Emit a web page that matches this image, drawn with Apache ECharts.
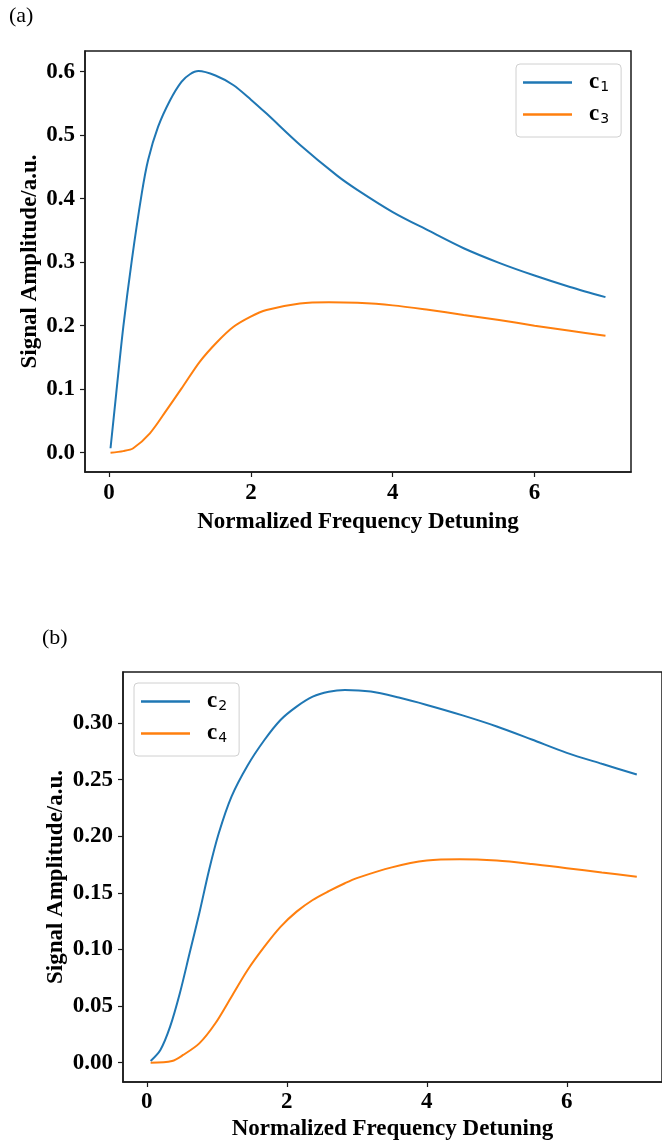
<!DOCTYPE html>
<html>
<head>
<meta charset="utf-8">
<script src="https://cdn.jsdelivr.net/npm/echarts@6/dist/echarts.min.js"></script>
<style>
html,body{margin:0;padding:0;background:#fff;}
#chart{width:662px;height:1144px;}
</style>
</head>
<body>
<div id="chart"></div>
<script>
// ---- Panel (a) data ----
const c1X = [0.02, 0.10, 0.20, 0.32, 0.46, 0.55, 0.69, 0.86, 1.02, 1.14, 1.26, 1.50, 1.75, 2.00, 2.22, 2.69, 3.22, 3.50, 4.00, 4.50, 5.00, 5.50, 6.00, 6.50, 7.00];
const c1  = [0.007, 0.093, 0.198, 0.303, 0.408, 0.461, 0.513, 0.555, 0.584, 0.596, 0.601, 0.594, 0.579, 0.556, 0.534, 0.485, 0.436, 0.414, 0.379, 0.350, 0.322, 0.299, 0.279, 0.261, 0.245];
const c3X = [0.02, 0.20, 0.34, 0.575, 0.81, 1.045, 1.28, 1.52, 1.75, 1.99, 2.22, 2.69, 3.10, 3.50, 4.00, 4.50, 5.00, 5.50, 6.00, 6.50, 7.00];
const c3  = [0.000, 0.0025, 0.007, 0.0305, 0.067, 0.105, 0.1435, 0.174, 0.198, 0.214, 0.2247, 0.235, 0.237, 0.236, 0.232, 0.225, 0.217, 0.209, 0.200, 0.192, 0.184];
// ---- Panel (b) data ----
const c2X = [0.055, 0.194, 0.333, 0.472, 0.611, 0.75, 0.889, 1.028, 1.21, 1.44, 1.68, 1.91, 2.14, 2.37, 2.60, 2.83, 3.20, 3.60, 4.00, 4.50, 5.00, 5.50, 6.00, 6.50, 7.00];
const c2  = [0.0015, 0.0112, 0.0318, 0.0613, 0.0966, 0.132, 0.170, 0.2026, 0.235, 0.2625, 0.285, 0.3027, 0.3145, 0.3233, 0.3277, 0.3292, 0.3278, 0.3225, 0.316, 0.307, 0.297, 0.2855, 0.2737, 0.264, 0.2546];
const c4X = [0.055, 0.36, 0.52, 0.75, 0.98, 1.21, 1.44, 1.68, 1.91, 2.14, 2.37, 2.60, 2.83, 3.00, 3.50, 4.00, 4.47, 5.00, 5.50, 6.00, 6.50, 7.00];
const c4  = [0.000, 0.0015, 0.0068, 0.017, 0.0348, 0.0583, 0.0819, 0.1025, 0.120, 0.1334, 0.1437, 0.1515, 0.1585, 0.1630, 0.1725, 0.1785, 0.1797, 0.1785, 0.1755, 0.1718, 0.168, 0.1643];
// ---- Tick labels ----
const xTicks = [0, 2, 4, 6];
const yTicksA = [0.0, 0.1, 0.2, 0.3, 0.4, 0.5, 0.6];
const yTicksB = [0.00, 0.05, 0.10, 0.15, 0.20, 0.25, 0.30];
const xTitle = 'Normalized Frequency Detuning';
const yTitle = 'Signal Amplitude/a.u.';
const subs = {c1: '1', c2: '2', c3: '3', c4: '4'};

const BLUE = '#1f77b4', ORANGE = '#ff7f0e', INK = '#1a1a1a';
const SERIF = 'Liberation Serif';
const zip = (xs, ys) => xs.map((x, i) => [x, ys[i]]);

function xAxisCfg(gridIndex, labelMargin, nameGap) {
  return {
    type: 'value', gridIndex, min: -0.34, max: 7.36,
    splitLine: {show: false},
    axisLine: {show: true, onZero: false, lineStyle: {color: INK, width: 1.5}},
    axisTick: {show: true, customValues: xTicks, length: 5, lineStyle: {color: INK, width: 1.2}},
    axisLabel: {customValues: xTicks, margin: labelMargin, color: '#000',
      fontFamily: SERIF, fontWeight: 'bold', fontSize: 23, formatter: v => String(v)},
    name: xTitle, nameLocation: 'middle', nameGap, nameMoveOverlap: false,
    nameTextStyle: {fontFamily: SERIF, fontWeight: 'bold', fontSize: 23, color: '#000'}
  };
}
function yAxisCfg(gridIndex, min, max, ticks, digits, nameGap) {
  return {
    type: 'value', gridIndex, min, max,
    splitLine: {show: false},
    axisLine: {show: true, onZero: false, lineStyle: {color: INK, width: 1.5}},
    axisTick: {show: true, customValues: ticks, length: 5, lineStyle: {color: INK, width: 1.2}},
    axisLabel: {customValues: ticks, margin: 10, color: '#000',
      fontFamily: SERIF, fontWeight: 'bold', fontSize: 23, formatter: v => Number(v).toFixed(digits)},
    name: yTitle, nameLocation: 'middle', nameGap, nameRotate: 90, nameMoveOverlap: false,
    nameTextStyle: {fontFamily: SERIF, fontWeight: 'bold', fontSize: 23, color: '#000'}
  };
}
function legendCfg(names, left, top) {
  return {
    data: names, left, top, orient: 'vertical',
    icon: 'rect', itemWidth: 49, itemHeight: 2.5, itemGap: 9,
    padding: [7, 12, 11, 7],
    backgroundColor: '#fff', borderColor: '#d0d0d0', borderWidth: 1, borderRadius: 4,
    formatter: n => '{c|c}{s|' + subs[n] + '}',
    textStyle: {
      rich: {
        c: {fontFamily: SERIF, fontWeight: 'bold', fontSize: 23, color: '#000', padding: [0, 1, 0, 12], lineHeight: 23},
        s: {fontFamily: 'DejaVu Sans', fontSize: 14, color: '#000', padding: [9, 0, 0, 0], lineHeight: 23}
      }
    }
  };
}
function lineSeries(name, xs, ys, color, idx) {
  return {
    name, type: 'line', xAxisIndex: idx, yAxisIndex: idx,
    data: zip(xs, ys), showSymbol: false, symbol: 'none',
    smooth: 0.3,
    lineStyle: {color, width: 2}, itemStyle: {color}
  };
}

const chart = echarts.init(document.getElementById('chart'), null, {renderer: 'canvas'});
chart.setOption({
  animation: false,
  backgroundColor: '#fff',
  grid: [
    {left: 85, top: 51, width: 546, height: 421, show: true, borderColor: INK, borderWidth: 1.5, backgroundColor: 'transparent', containLabel: false},
    {left: 123, top: 672, width: 549, height: 410, show: true, borderColor: INK, borderWidth: 1.5, backgroundColor: 'transparent', containLabel: false}
  ],
  xAxis: [xAxisCfg(0, 10, 39), xAxisCfg(1, 9, 36)],
  yAxis: [
    yAxisCfg(0, -0.0304, 0.6326, yTicksA, 1, 43),
    yAxisCfg(1, -0.0171, 0.3451, yTicksB, 2, 55)
  ],
  legend: [legendCfg(['c1', 'c3'], 516, 64), legendCfg(['c2', 'c4'], 134, 683)],
  graphic: [
    {type: 'text', left: 9, top: 5, style: {text: '(a)', fontFamily: SERIF, fontSize: 22, fill: '#000'}},
    {type: 'text', left: 42, top: 627, style: {text: '(b)', fontFamily: SERIF, fontSize: 22, fill: '#000'}}
  ],
  series: [
    lineSeries('c1', c1X, c1, BLUE, 0),
    lineSeries('c3', c3X, c3, ORANGE, 0),
    lineSeries('c2', c2X, c2, BLUE, 1),
    lineSeries('c4', c4X, c4, ORANGE, 1)
  ]
});
</script>
</body>
</html>
